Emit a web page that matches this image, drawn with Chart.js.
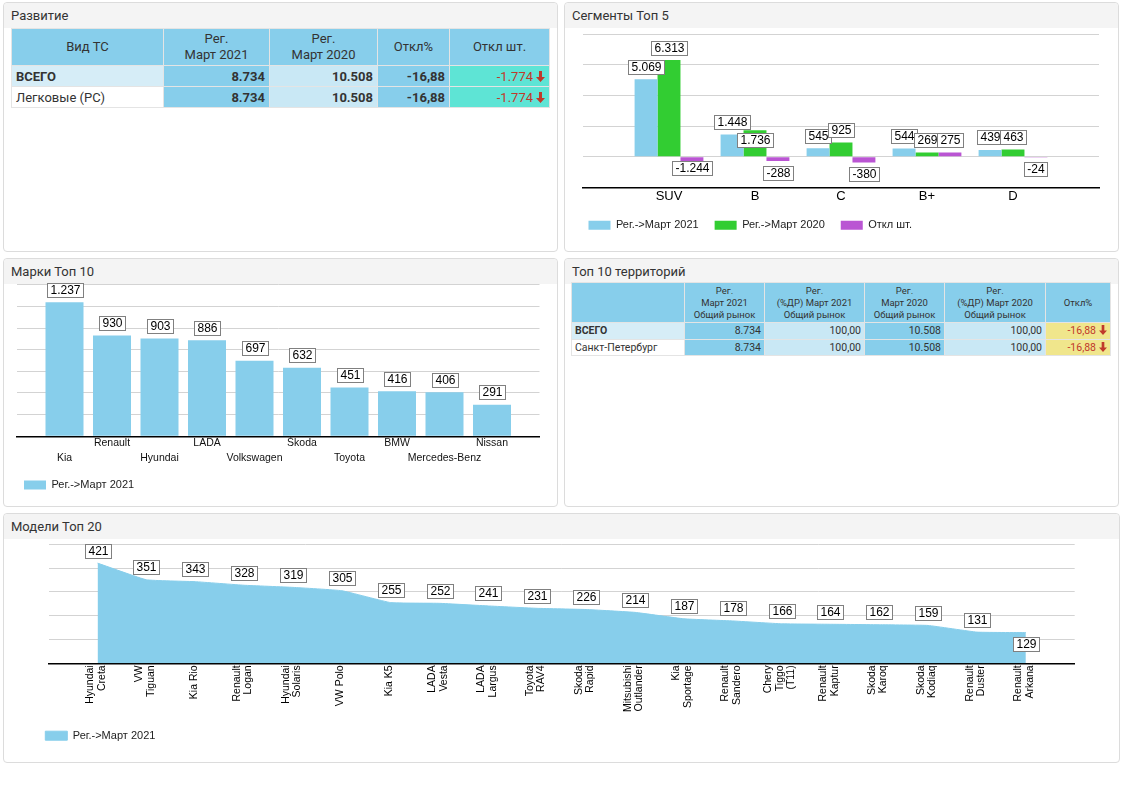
<!DOCTYPE html>
<html lang="ru">
<head>
<meta charset="utf-8">
<script src="https://cdn.jsdelivr.net/npm/chart.js@4.4.1/dist/chart.umd.min.js"></script>
<style>
  body { margin:0; width:1122px; height:793px; background:#fff; font-family:Roboto, "Liberation Sans", sans-serif; color:#333; position:relative; overflow:hidden; }
  .panel { position:absolute; border:1px solid #dcdcdc; border-radius:4px; background:#fff; box-sizing:border-box; }
  .panel .hd { height:25px; background:#f4f4f4; border-radius:4px 4px 0 0; font-size:13px; line-height:25px; padding-left:7px; color:#333; }
  canvas { position:absolute; }
  table { position:absolute; border-collapse:collapse; table-layout:fixed; }
  td, th { border:1px solid #e4e4e4; padding:0 4px; white-space:nowrap; overflow:hidden; }
  th { background:#87CEEB; font-weight:normal; color:#333; }
  .sky { background:#87CEEB; }
  .lt { background:#c9e8f5; }
  .nm { background:#d6edf7; text-align:left !important; }
  .wh { background:#fff; text-align:left !important; font-weight:normal !important; }
  .tq { background:#5ee4d5; color:#c0392b; font-weight:normal !important; }
  .kh { background:#f0e68c; color:#c0392b; }
  #t1 { left:11px; top:28px; width:538px; font-size:13px; }
  #t1 th { height:36px; line-height:16.5px; }
  #t1 td { height:20px; text-align:right; font-weight:bold; }
  #t2 { left:571px; top:282px; width:539px; font-size:10.5px; }
  #t2 th { height:39px; line-height:12px; font-size:9.5px; }
  #t2 td { height:15.5px; text-align:right; padding:0 3px; }
  #t2 td.b { font-weight:bold; }
  svg.ar { vertical-align:-1px; margin-left:3px; }
</style>
</head>
<body>
<div class="panel" style="left:3px;top:2px;width:555px;height:250px"><div class="hd">Развитие</div></div>
<div class="panel" style="left:564px;top:2px;width:555px;height:250px"><div class="hd">Сегменты Топ 5</div></div>
<div class="panel" style="left:3px;top:258px;width:555px;height:249px"><div class="hd">Марки Топ 10</div></div>
<div class="panel" style="left:564px;top:258px;width:555px;height:249px"><div class="hd">Топ 10 территорий</div></div>
<div class="panel" style="left:3px;top:513px;width:1117px;height:250px"><div class="hd">Модели Топ 20</div></div>

<table id="t1">
  <colgroup><col style="width:152px"><col style="width:106px"><col style="width:108px"><col style="width:72px"><col style="width:100px"></colgroup>
  <tr><th>Вид ТС</th><th>Рег.<br>Март 2021</th><th>Рег.<br>Март 2020</th><th>Откл%</th><th>Откл шт.</th></tr>
  <tr><td class="nm">ВСЕГО</td><td class="sky">8.734</td><td class="lt">10.508</td><td class="sky">-16,88</td><td class="tq">-1.774<svg class="ar" width="9" height="11" viewBox="0 0 9 11"><path d="M3 0h3v6h3L4.5 11 0 6h3z" fill="#c0392b"/></svg></td></tr>
  <tr><td class="wh">Легковые (РС)</td><td class="sky">8.734</td><td class="lt">10.508</td><td class="sky">-16,88</td><td class="tq">-1.774<svg class="ar" width="9" height="11" viewBox="0 0 9 11"><path d="M3 0h3v6h3L4.5 11 0 6h3z" fill="#c0392b"/></svg></td></tr>
</table>

<table id="t2">
  <colgroup><col style="width:113px"><col style="width:80px"><col style="width:100px"><col style="width:80px"><col style="width:101px"><col style="width:65px"></colgroup>
  <tr><th></th><th>Рег.<br>Март 2021<br>Общий рынок</th><th>Рег.<br>(%ДР) Март 2021<br>Общий рынок</th><th>Рег.<br>Март 2020<br>Общий рынок</th><th>Рег.<br>(%ДР) Март 2020<br>Общий рынок</th><th>Откл%</th></tr>
  <tr><td class="nm b">ВСЕГО</td><td class="sky">8.734</td><td class="lt">100,00</td><td class="sky">10.508</td><td class="lt">100,00</td><td class="kh">-16,88<svg class="ar" width="8" height="10" viewBox="0 0 9 11"><path d="M3 0h3v6h3L4.5 11 0 6h3z" fill="#c0392b"/></svg></td></tr>
  <tr><td class="wh">Санкт-Петербург</td><td class="sky">8.734</td><td class="lt">100,00</td><td class="sky">10.508</td><td class="lt">100,00</td><td class="kh">-16,88<svg class="ar" width="8" height="10" viewBox="0 0 9 11"><path d="M3 0h3v6h3L4.5 11 0 6h3z" fill="#c0392b"/></svg></td></tr>
</table>

<canvas id="segmentChart" width="540" height="222" style="left:570px;top:28px"></canvas>
<canvas id="brandChart" width="544" height="227" style="left:8px;top:278px"></canvas>
<canvas id="modelChart" width="1104" height="223" style="left:8px;top:537px"></canvas>

<script>
// Данные
const segLabels = ['SUV', 'B', 'C', 'B+', 'D'];
const segReg2021 = [5069, 1448, 545, 544, 439];
const segReg2020 = [6313, 1736, 925, 269, 463];
const segDiff = [-1244, -288, -380, 275, -24];

const brandLabels = ['Kia', 'Renault', 'Hyundai', 'LADA', 'Volkswagen', 'Škoda', 'Toyota', 'BMW', 'Mercedes-Benz', 'Nissan'];
const brandValues = [1237, 930, 903, 886, 697, 632, 451, 416, 406, 291];

const modelLabels = [
  ['Hyundai', 'Creta'], ['VW', 'Tiguan'], ['Kia Rio'], ['Renault', 'Logan'], ['Hyundai', 'Solaris'],
  ['VW Polo'], ['Kia K5'], ['LADA', 'Vesta'], ['LADA', 'Largus'], ['Toyota', 'RAV4'],
  ['Skoda', 'Rapid'], ['Mitsubishi', 'Outlander'], ['Kia', 'Sportage'], ['Renault', 'Sandero'], ['Chery', 'Tiggo', '(T11)'],
  ['Renault', 'Kaptur'], ['Skoda', 'Karoq'], ['Skoda', 'Kodiaq'], ['Renault', 'Duster'], ['Renault', 'Arkana']
];
const modelValues = [421, 351, 343, 328, 319, 305, 255, 252, 241, 231, 226, 214, 187, 178, 166, 164, 162, 159, 131, 129];

const SKY = '#87CEEB', GREEN = '#32CD32', ORCHID = '#BA55D3';

// пустая категория с каждой стороны, как в оригинале
const padEnds = arr => [null, ...arr, null];
const padLabels = arr => ['', ...arr, ''];

function fmt(v) {
  const s = Math.abs(v).toString().replace(/\B(?=(\d{3})+(?!\d))/g, '.');
  return (v < 0 ? '-' : '') + s;
}

// подписи значений в рамках
const boxLabels = {
  id: 'boxLabels',
  afterDatasetsDraw(chart, args, opts) {
    const ctx = chart.ctx, area = chart.chartArea;
    ctx.save();
    ctx.font = '12px "Liberation Sans", Arial, sans-serif';
    ctx.textAlign = 'center';
    ctx.textBaseline = 'middle';
    const placed = [];
    chart.data.datasets.forEach((ds, di) => {
      const meta = chart.getDatasetMeta(di);
      let last = -1;
      ds.data.forEach((v, i) => { if (v !== null) last = i; });
      meta.data.forEach((el, i) => {
        const v = ds.data[i];
        if (v === null || v === undefined) return;
        const text = fmt(v);
        const w = Math.round(ctx.measureText(text).width) + 6, h = 14;
        const below = v < 0 || (opts.lastBelow && i === last);
        let top;
        if (!below) {
          top = el.y - 5.5 - h;
        } else {
          top = el.y + 4.5;
          if (top + h > area.bottom) top = el.base + 3.5;
        }
        const left = el.x - w / 2;
        placed.forEach(p => {
          const ox = Math.min(left + w, p.r) - Math.max(left, p.l);
          const oy = Math.min(top + h, p.b) - Math.max(top, p.t);
          if (ox > 8 && oy > 0) top = p.b + 3.5;
        });
        placed.push({ l: left, r: left + w, t: top, b: top + h });
        const L = Math.round(left) + 0.5, T = Math.round(top) + 0.5;
        ctx.fillStyle = '#fff';
        ctx.fillRect(L, T, w, h);
        ctx.strokeStyle = '#808080';
        ctx.lineWidth = 1;
        ctx.strokeRect(L, T, w, h);
        ctx.fillStyle = '#000';
        ctx.fillText(text, L + w / 2, T + h / 2 + 0.5);
      });
    });
    ctx.restore();
  }
};

// вертикальные подписи моделей, многострочные, по центру деления
const rotatedTicks = {
  id: 'rotatedTicks',
  afterDraw(chart, args, opts) {
    if (!opts.enabled) return;
    const ctx = chart.ctx, sx = chart.scales.x;
    ctx.save();
    ctx.font = '10.5px "Liberation Sans", Arial, sans-serif';
    ctx.fillStyle = '#000';
    ctx.textAlign = 'right';
    ctx.textBaseline = 'middle';
    chart.data.labels.forEach((lines, i) => {
      if (!lines || !lines.length) return;
      const x = sx.getPixelForValue(i);
      lines.forEach((line, j) => {
        ctx.save();
        ctx.translate(x + (j - (lines.length - 1) / 2) * 11.5 - 1.5, sx.top + 2);
        ctx.rotate(-Math.PI / 2);
        ctx.fillText(line, 0, 0);
        ctx.restore();
      });
    });
    ctx.restore();
  }
};

Chart.register(boxLabels, rotatedTicks);
Chart.defaults.font.family = '"Liberation Sans", Arial, sans-serif';
Chart.defaults.animation = false;
Chart.defaults.responsive = false;

function hiddenY(min, max, step, width) {
  return {
    min: min, max: max,
    ticks: { display: false, stepSize: step },
    grid: { color: '#d3d3d3', drawTicks: false },
    border: { display: false },
    afterFit: s => { s.width = width; }
  };
}

function legendOpts(padding) {
  return {
    position: 'bottom', align: 'start',
    labels: { boxWidth: 22, boxHeight: 9, padding: padding, color: '#222', font: { size: 11 } }
  };
}

// Сегменты Топ 5
const ctx1 = document.getElementById('segmentChart').getContext('2d');
new Chart(ctx1, {
  type: 'bar',
  data: {
    labels: padLabels(segLabels),
    datasets: [
      { label: 'Рег.->Март 2021', data: padEnds(segReg2021), backgroundColor: SKY },
      { label: 'Рег.->Март 2020', data: padEnds(segReg2020), backgroundColor: GREEN },
      { label: 'Откл шт.', data: padEnds(segDiff), backgroundColor: ORCHID }
    ]
  },
  options: {
    layout: { padding: { left: 2.5, right: 11, top: 6.3, bottom: 9.2 } },
    datasets: { bar: { categoryPercentage: 0.8, barPercentage: 1 } },
    scales: {
      x: {
        offset: false,
        grid: { display: false, drawTicks: false },
        border: { color: '#000', width: 1.5 },
        ticks: { autoSkip: false, maxRotation: 0, padding: 1, color: '#000', font: { size: 13 } },
        afterFit: s => { s.height = 16.5; }
      },
      y: hiddenY(-2000, 8000, 2000, 10.5)
    },
    plugins: { legend: legendOpts(16), tooltip: { enabled: false } }
  }
});

// Марки Топ 10
const ctx2 = document.getElementById('brandChart').getContext('2d');
new Chart(ctx2, {
  type: 'bar',
  data: {
    labels: padLabels(brandLabels),
    datasets: [
      { label: 'Рег.->Март 2021', data: padEnds(brandValues), backgroundColor: SKY }
    ]
  },
  options: {
    layout: { padding: { left: 6, right: 12.5, top: 6.7, bottom: 4.5 } },
    datasets: { bar: { categoryPercentage: 0.8, barPercentage: 1 } },
    scales: {
      x: {
        offset: false,
        grid: { display: false, drawTicks: false },
        border: { color: '#000', width: 1.5 },
        ticks: {
          autoSkip: false, maxRotation: 0, padding: 0, color: '#111',
          font: { size: 10.5, lineHeight: 1.36 },
          callback: function (value, index) {
            const name = this.getLabelForValue(value);
            if (!name) return '';
            return (index - 1) % 2 === 0 ? ['', name] : name;
          }
        },
        afterFit: s => { s.height = 33.2; }
      },
      y: hiddenY(0, 1400, 200, 3)
    },
    plugins: { legend: legendOpts(10), tooltip: { enabled: false } }
  }
});

// Модели Топ 20
const ctx3 = document.getElementById('modelChart').getContext('2d');
new Chart(ctx3, {
  type: 'line',
  data: {
    labels: padLabels(modelLabels),
    datasets: [
      {
        label: 'Рег.->Март 2021',
        data: padEnds(modelValues),
        backgroundColor: SKY,
        borderColor: SKY,
        borderWidth: 1,
        fill: 'origin',
        pointRadius: 0,
        tension: 0.1
      }
    ]
  },
  options: {
    layout: { padding: { left: 27.3, right: 37.3, top: 7.3, bottom: 8.8 } },
    scales: {
      x: {
        offset: false,
        grid: { display: false, drawTicks: false },
        border: { color: '#000', width: 1.5 },
        ticks: { display: false },
        afterFit: s => { s.height = 56.9; }
      },
      y: hiddenY(0, 500, 100, 13.4)
    },
    plugins: {
      legend: legendOpts(10),
      tooltip: { enabled: false },
      boxLabels: { lastBelow: true },
      rotatedTicks: { enabled: true }
    }
  }
});
</script>
</body>
</html>
